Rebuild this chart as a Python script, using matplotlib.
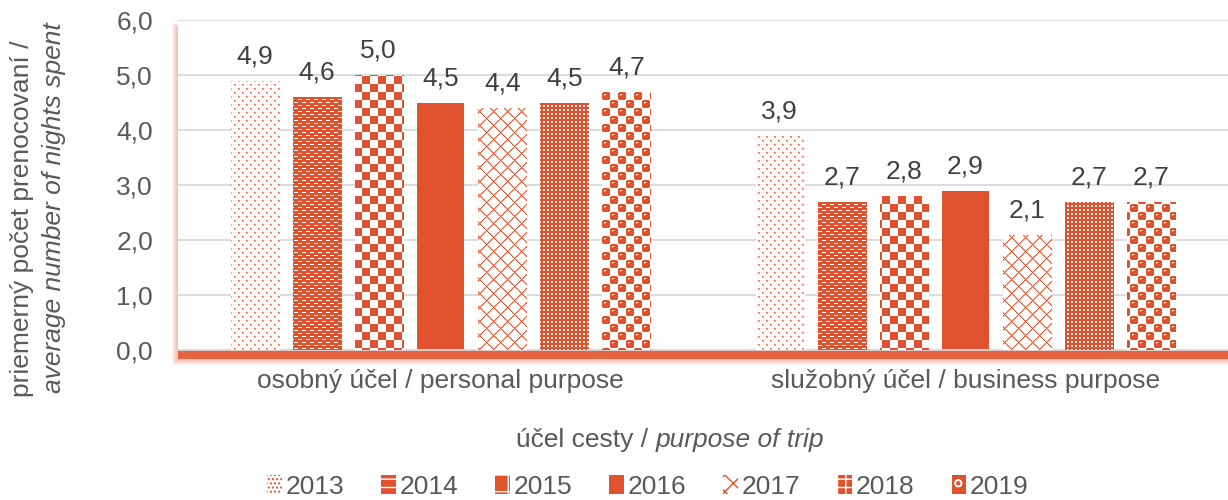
import numpy as np
import matplotlib
matplotlib.use('Agg')
import matplotlib.pyplot as plt
from matplotlib.patches import Rectangle, Patch
from matplotlib.transforms import IdentityTransform
from matplotlib.colors import to_rgb

plt.rcParams['font.family'] = ['Liberation Sans', 'DejaVu Sans']

# data
categories = ['osobný účel / personal purpose', 'služobný účel / business purpose']
years = ['2013', '2014', '2015', '2016', '2017', '2018', '2019']
personal = [4.9, 4.6, 5.0, 4.5, 4.4, 4.5, 4.7]
business = [3.9, 2.7, 2.8, 2.9, 2.1, 2.7, 2.7]
yticks = [0, 1, 2, 3, 4, 5, 6]

red = '#E0522D'
red_rgb = np.array(to_rgb(red))
txt = '#595959'
FS = 19

# pattern tiles (1 = red, 0 = white)
def tile_dots():
    t = np.zeros((8, 8))
    t[0:2, 0:2] = 0.5
    t[0, 0] = 1.0
    t[4:6, 4:6] = 0.5
    t[4, 4] = 1.0
    return t

def tile_dashes():
    t = np.ones((6, 8))
    t[1, 0:4] = 0.0
    t[4, 4:8] = 0.0
    return t

def tile_checker():
    t = np.zeros((16, 16))
    t[:8, :8] = 1
    t[8:, 8:] = 1
    return t

def tile_diamond():
    P = 14
    y, x = np.mgrid[0:P, 0:P]
    a = (x + y) % P
    b = (x - y) % P
    t = np.where((a == 0) | (b == 0), 1.0, 0.0)
    near = (a == 1) | (b == 1)
    t = np.maximum(t, np.where(near, 0.45, 0.0))
    return t

def tile_grid():
    t = np.ones((4, 4))
    t[1:3, 1:3] = 0.1
    return t

def tile_sphere():
    cell = np.ones((8, 8))
    for r, c in [(0, 0), (0, 7), (7, 0), (7, 7)]:
        cell[r, c] = 0.2
    cell[2, 2:4] = 0.15
    cell[3, 2] = 0.4
    t = np.zeros((16, 16))
    t[:8, :8] = cell
    t[8:, 8:] = cell
    return t

tiles = [tile_dots(), tile_dashes(), tile_checker(), None,
         tile_diamond(), tile_grid(), tile_sphere()]

fig = plt.figure(figsize=(12.28, 5.0), dpi=100)
W, H = 1228, 500
ax_l, ax_r, ax_t, ax_b = 178, 1228, 20, 350
ax = fig.add_axes([ax_l / W, 1 - ax_b / H, (ax_r - ax_l) / W, (ax_b - ax_t) / H])

# shadow of the plot area (red, shifted down, soft edges)
sx, sy = ax_l, H - ax_b - 9
sw, sh = W, ax_b - ax_t
fig.add_artist(Rectangle((sx, sy), sw, sh, transform=IdentityTransform(),
                         facecolor=red, edgecolor='none', alpha=0.85, zorder=-2))
for k in range(1, 7):
    fig.add_artist(Rectangle((sx - k, sy - k), sw + 2 * k, sh + 2 * k,
                             transform=IdentityTransform(), facecolor=red,
                             edgecolor='none', alpha=0.07, zorder=-3))

ax.set_facecolor('white')
ax.set_xlim(-0.5, 1.5)
ax.set_ylim(0, 6)

x = np.arange(len(categories))
step = 0.118
width = 0.0914
vals = np.array([personal, business])

pw, ph = ax_r - ax_l, ax_b - ax_t
for i, yr in enumerate(years):
    pos = x + (i - 3) * step
    v = vals[:, i]
    if tiles[i] is None:
        bars = ax.bar(pos, v, width, color=red, edgecolor='none', zorder=2)
    else:
        bars = ax.bar(pos, v, width, color='white', edgecolor='none', zorder=2)
        t = tiles[i]
        reps = (ph // t.shape[0] + 1, pw // t.shape[1] + 1)
        m = np.tile(t, reps)[:ph, :pw]
        img = np.ones((ph, pw, 3))
        img[:] = 1 - m[..., None] * (1 - red_rgb)
        for b in bars:
            im = fig.figimage(img, xo=ax_l, yo=H - ax_b, origin='upper', zorder=1)
            im.set_clip_path(b)
    for p, val in zip(pos, v):
        ax.annotate(f'{val:.1f}'.replace('.', ','), xy=(p, val), xytext=(0, 12.5),
                    textcoords='offset points', ha='center', va='baseline',
                    fontsize=FS, color='#404040')

ax.set_yticks(yticks)
ax.set_yticklabels([f'{t:.1f}'.replace('.', ',') for t in yticks])
ax.set_xticks(x)
ax.set_xticklabels(categories)
ax.tick_params(axis='y', length=0, pad=18, labelsize=FS, labelcolor=txt)
ax.tick_params(axis='x', length=0, pad=14, labelsize=FS, labelcolor=txt)
ax.grid(axis='y', color='#D9D9D9', linewidth=1.3, zorder=0)
ax.set_axisbelow(True)
for s in ['top', 'right', 'left']:
    ax.spines[s].set_visible(False)
ax.spines['bottom'].set_color('#D9D9D9')
ax.spines['bottom'].set_linewidth(1.3)

# axis titles
fig.text(22 / W, 1 - 397 / H, 'priemerný počet prenocovaní /', rotation=90,
         ha='center', va='bottom', fontsize=FS, color=txt)
fig.text(54 / W, 1 - 393 / H, 'average number of nights spent', rotation=90,
         ha='center', va='bottom', fontsize=FS, color=txt, style='italic')
t1 = fig.text(516 / W, 1 - 440 / H, 'účel cesty / ', ha='left', va='center',
              fontsize=FS, color=txt)
ax.annotate('purpose of trip', xy=(1, 0), xycoords=t1, ha='left', va='bottom',
            fontsize=FS, color=txt, style='italic', annotation_clip=False)

# legend
leg_style = [
    dict(facecolor='white', edgecolor=red, hatch='....'),
    dict(facecolor=red, edgecolor='white', hatch='--'),
    dict(facecolor=red, edgecolor='white', hatch='+'),
    dict(facecolor=red, edgecolor=red),
    dict(facecolor='white', edgecolor=red, hatch='xx'),
    dict(facecolor=red, edgecolor='white', hatch='++'),
    dict(facecolor=red, edgecolor='white', hatch='o'),
]
handles = [Patch(linewidth=0, label=yr, **st) for yr, st in zip(years, leg_style)]
fig.legend(handles=handles, loc='center', bbox_to_anchor=(648 / W, 1 - 487 / H),
           ncol=7, frameon=False, fontsize=FS, labelcolor=txt,
           handlelength=0.55, handleheight=0.75, handletextpad=0.15,
           columnspacing=1.4, borderpad=0)

fig.savefig('out.png', dpi=100)
